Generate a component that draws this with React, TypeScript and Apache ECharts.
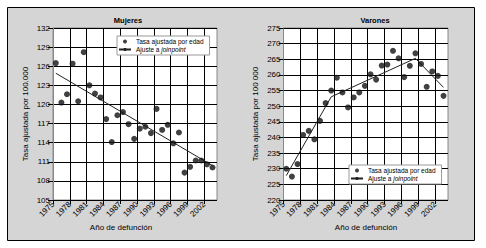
import React, { useEffect, useRef } from "react";
import * as echarts from "echarts";

// Year of death (data points plotted at mid-year)
const years = [
  1975, 1976, 1977, 1978, 1979, 1980, 1981, 1982, 1983, 1984, 1985, 1986, 1987, 1988, 1989,
  1990, 1991, 1992, 1993, 1994, 1995, 1996, 1997, 1998, 1999, 2000, 2001, 2002, 2003,
];
const mujeresRate = [
  126.5, 120.3, 121.6, 126.4, 120.5, 128.2, 123.0, 121.7, 121.1, 117.7, 114.1, 118.3, 118.8, 116.9, 114.6,
  116.2, 116.5, 115.5, 119.3, 116.0, 116.8, 113.9, 115.6, 109.3, 110.2, 111.2, 111.2, 110.6, 110.1,
];
const varonesRate = [
  230.0, 227.5, 231.5, 240.8, 242.1, 239.4, 245.3, 251.0, 255.0, 259.1, 254.4, 249.6, 252.8, 254.4, 256.5,
  260.2, 258.5, 263.0, 263.3, 267.7, 265.3, 259.3, 262.9, 266.9, 263.5, 256.2, 261.1, 259.7, 253.3,
];
const mujeresFitYears = [1975, 2003];
const mujeresFit = [124.9, 110.4];
const varonesFitYears = [1975, 1983, 1998, 2003];
const varonesFit = [227.8, 253.0, 265.3, 256.0];

const xTickStart = 1975;
const mujeresTicks = { min: 105, max: 132, interval: 3 };
const varonesTicks = { min: 220, max: 275, interval: 5 };

const titles = ["Mujeres", "Varones"];
const xName = "Año de defunción";
const yNames = ["Tasa ajustada por 100.000", "Tasa ajustada por 100 000"];
const legendNames = ["Tasa ajustada por edad", "Ajuste a joinpoint"];

const FONT = "'Liberation Sans', Arial, Helvetica, sans-serif";
const MID = 0.5;

const toXY = (ys: number[], vs: number[]) => ys.map((y, i) => [y - xTickStart + MID, vs[i]]);

export default function App() {
  const ref = useRef<HTMLDivElement>(null);
  useEffect(() => {
    if (!ref.current) return;
    const chart = echarts.init(ref.current, null, { renderer: "svg" });

    const xAxisBase = (gridIndex: number) => ({
      type: "value",
      gridIndex,
      min: 0,
      max: 29.3,
      interval: 3,
      axisLine: { show: false },
      axisTick: { show: true, length: 4, lineStyle: { color: "#000", width: 1 } },
      axisLabel: {
        rotate: 45,
        fontSize: 8,
        fontFamily: FONT,
        color: "#000",
        margin: 3,
        showMaxLabel: false,
        formatter: (v: number) => String(xTickStart + v),
      },
      splitLine: { show: true, showMaxLine: false, lineStyle: { color: "#000", width: 1 } },
    });
    const yAxisBase = (gridIndex: number, t: { min: number; max: number; interval: number }, name: string) => ({
      type: "value",
      gridIndex,
      min: t.min,
      max: t.max,
      interval: t.interval,
      name,
      nameLocation: "middle",
      nameGap: 24,
      nameTextStyle: { fontSize: 8, fontFamily: FONT, color: "#000" },
      axisLine: { show: true, lineStyle: { color: "#888", width: 1 } },
      axisTick: { show: true, length: 5, lineStyle: { color: "#000", width: 1 } },
      axisLabel: { fontSize: 8, fontFamily: FONT, color: "#000", margin: 3 },
      splitLine: { show: true, lineStyle: { color: "#000", width: 1 } },
    });

    const legendBase = (left: number, top: number) => ({
      left,
      top,
      orient: "vertical",
      itemWidth: 12,
      itemHeight: 4,
      itemGap: 1,
      padding: [2, 6, 2, 1],
      backgroundColor: "#fff",
      borderColor: "#999",
      borderWidth: 1,
      borderRadius: 0,
      selectedMode: false,
      data: [
        { name: legendNames[0], icon: "circle" },
        { name: legendNames[1] },
      ],
      formatter: (n: string) => (n === legendNames[1] ? "Ajuste a {i|joinpoint}" : n),
      textStyle: {
        fontSize: 6.5,
        lineHeight: 7,
        fontFamily: FONT,
        color: "#000",
        rich: { i: { fontSize: 6.5, lineHeight: 7, fontStyle: "italic", fontFamily: FONT, color: "#000" } },
      },
    });

    const option: any = {
      animation: false,
      backgroundColor: "#fff",
      graphic: {
        elements: [
          {
            type: "rect",
            z: -10,
            silent: true,
            shape: { x: 7.5, y: 7.5, width: 467, height: 233 },
            style: { fill: "#d5d5d5", stroke: "#000", lineWidth: 1 },
          },
          {
            type: "text",
            x: 128,
            y: 20,
            style: { text: titles[0], font: `bold 7.5px ${FONT}`, fill: "#000", align: "center", verticalAlign: "middle" },
          },
          {
            type: "text",
            x: 375,
            y: 20,
            style: { text: titles[1], font: `bold 7.5px ${FONT}`, fill: "#000", align: "center", verticalAlign: "middle" },
          },
          {
            type: "text",
            x: 121,
            y: 227,
            style: { text: xName, font: `8px ${FONT}`, fill: "#000", align: "center", verticalAlign: "middle" },
          },
          {
            type: "text",
            x: 366,
            y: 227,
            style: { text: xName, font: `8px ${FONT}`, fill: "#000", align: "center", verticalAlign: "middle" },
          },
        ],
      },
      grid: [
        { left: 53, top: 28, width: 164, height: 172, show: true, backgroundColor: "#fff", borderColor: "#888", borderWidth: 1 },
        { left: 283.5, top: 28, width: 164.5, height: 172, show: true, backgroundColor: "#fff", borderColor: "#888", borderWidth: 1 },
      ],
      xAxis: [xAxisBase(0), xAxisBase(1)],
      yAxis: [yAxisBase(0, mujeresTicks, yNames[0]), yAxisBase(1, varonesTicks, yNames[1])],
      legend: [legendBase(117, 36), legendBase(349, 165)],
      series: [
        {
          name: legendNames[0],
          type: "scatter",
          xAxisIndex: 0,
          yAxisIndex: 0,
          symbol: "circle",
          symbolSize: 6,
          itemStyle: { color: "#111" },
          data: toXY(years, mujeresRate),
          z: 5,
        },
        {
          name: legendNames[1],
          type: "line",
          xAxisIndex: 0,
          yAxisIndex: 0,
          symbol: "none",
          lineStyle: { color: "#222", width: 1 },
          itemStyle: { color: "#222" },
          data: toXY(mujeresFitYears, mujeresFit),
          z: 4,
        },
        {
          name: legendNames[0],
          type: "scatter",
          xAxisIndex: 1,
          yAxisIndex: 1,
          symbol: "circle",
          symbolSize: 6,
          itemStyle: { color: "#111" },
          data: toXY(years, varonesRate),
          z: 5,
        },
        {
          name: legendNames[1],
          type: "line",
          xAxisIndex: 1,
          yAxisIndex: 1,
          symbol: "none",
          lineStyle: { color: "#222", width: 1 },
          itemStyle: { color: "#222" },
          data: toXY(varonesFitYears, varonesFit),
          z: 4,
        },
      ],
    };
    chart.setOption(option);
    return () => chart.dispose();
  }, []);

  return (
    <div
      ref={ref}
      style={{ position: "absolute", left: 0, top: 0, width: 486, height: 248 }}
    />
  );
}
